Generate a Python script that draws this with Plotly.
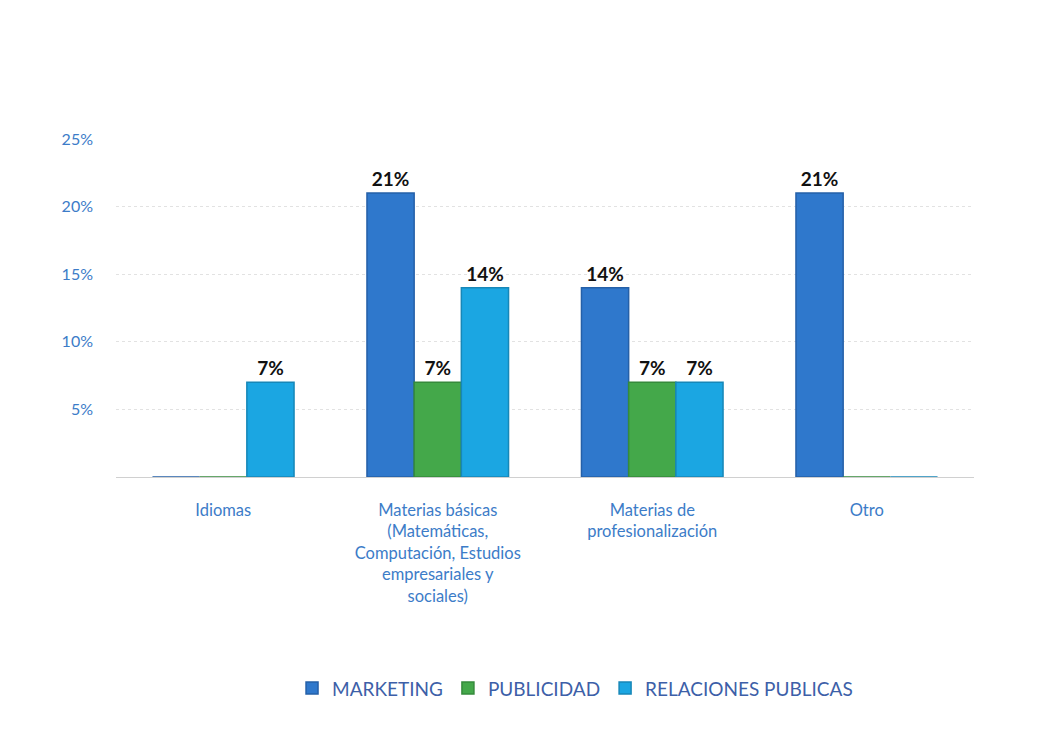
import plotly.graph_objects as go

categories = [
    "Idiomas",
    "Materias básicas<br>(Matemáticas,<br>Computación, Estudios<br>empresariales y<br>sociales)",
    "Materias de<br>profesionalización",
    "Otro",
]
series_names = ["MARKETING", "PUBLICIDAD", "RELACIONES PUBLICAS"]
marketing = [0.00, 0.21, 0.14, 0.21]
publicidad = [0.00, 0.07, 0.07, 0.00]
relaciones = [0.07, 0.14, 0.07, 0.00]
y_ticks = [0.05, 0.10, 0.15, 0.20, 0.25]
y_tick_labels = ["5%", "10%", "15%", "20%", "25%"]

colors = ["#2F78CC", "#44A84A", "#1BA6E2"]
side_colors = ["#2560A8", "#358A3B", "#1787B8"]

font_family = "Lato, Open Sans, sans-serif"

fig = go.Figure()
for name, vals, col, side in zip(series_names, [marketing, publicidad, relaciones], colors, side_colors):
    fig.add_trace(go.Bar(
        name=name,
        x=categories,
        y=vals,
        marker=dict(color=col, line=dict(color=side, width=1.5)),
        text=[f"{round(v*100)}%" if v > 0 else "" for v in vals],
        textposition="outside",
        textfont=dict(family=font_family, size=19, color="#111111"),
        texttemplate="<b>%{text}</b>",
        cliponaxis=False,
    ))

fig.update_layout(
    width=1050, height=740,
    margin=dict(l=116, r=76, t=139, b=263),
    paper_bgcolor="white", plot_bgcolor="white",
    barmode="group", bargap=0.34, bargroupgap=0,
    font=dict(family=font_family),
    showlegend=True,
    legend=dict(
        orientation="h", x=0.535, xanchor="center", y=-0.625, yanchor="middle",
        font=dict(family=font_family, size=19, color="#3D5FA8"),
        itemwidth=30, traceorder="normal",
    ),
    xaxis=dict(
        showgrid=False, showline=True, linecolor="#D0D0D0", linewidth=1,
        tickfont=dict(family=font_family, size=16.5, color="#3C7CC8"),
        ticklabelstandoff=18,
    ),
    yaxis=dict(
        range=[0, 0.25], tickvals=y_ticks, ticktext=y_tick_labels,
        showgrid=True, gridcolor="#E2E2E2", griddash="dot", gridwidth=1,
        zeroline=False, showline=False,
        tickfont=dict(family=font_family, size=16, color="#3C7CC8"),
        ticklabelstandoff=22,
    ),
)

fig.write_html("out.html")
